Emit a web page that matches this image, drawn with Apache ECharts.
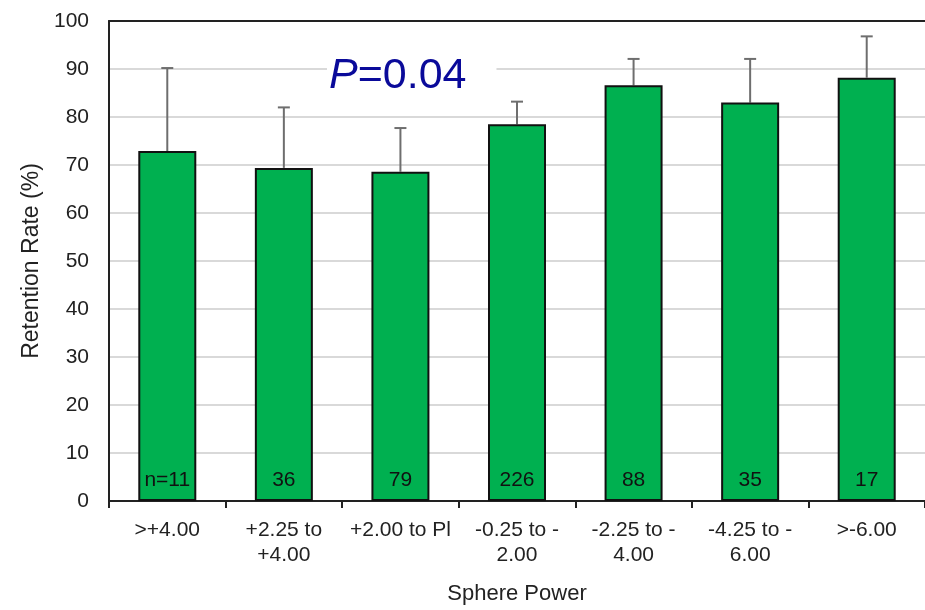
<!DOCTYPE html>
<html><head><meta charset="utf-8">
<script src="https://cdn.jsdelivr.net/npm/echarts@6/dist/echarts.min.js"></script>
<style>html,body{margin:0;padding:0;background:#fff}#c{width:925px;height:610px}</style>
</head><body><div id="c"></div>
<script>
const categories = ['>+4.00', '+2.25 to\n+4.00', '+2.00 to Pl', '-0.25 to -\n2.00', '-2.25 to -\n4.00', '-4.25 to -\n6.00', '>-6.00'];
const retention = [72.9, 69.4, 68.6, 78.5, 86.6, 83.0, 88.2];
const errorTop = [90.2, 82.0, 77.7, 83.2, 92.1, 92.1, 96.8];
const counts = ['n=11', '36', '79', '226', '88', '35', '17'];
const yTicks = [0, 10, 20, 30, 40, 50, 60, 70, 80, 90, 100];

const chart = echarts.init(document.getElementById('c'));
const font = 'Liberation Sans, Arial, sans-serif';
const navy = '#0a0a9a';
chart.setOption({
  animation: false,
  grid: { left: 109, top: 21, width: 819, height: 484, show: false, containLabel: false },
  xAxis: [{
    type: 'category', data: categories,
    name: 'Sphere Power', nameLocation: 'middle', nameGap: 82,
    nameTextStyle: { fontFamily: font, fontSize: 22, color: '#222' },
    axisLine: { lineStyle: { color: '#222', width: 2 } },
    axisTick: { show: true, interval: 0, length: 7, lineStyle: { color: '#222', width: 2 } },
    axisLabel: { interval: 0, fontFamily: font, fontSize: 21, color: '#222', lineHeight: 25, margin: 17 }
  }, {
    type: 'category', data: categories, position: 'top',
    axisLine: { lineStyle: { color: '#222', width: 2 } },
    axisTick: { show: false }, axisLabel: { show: false }
  }],
  yAxis: {
    type: 'value', min: 0, max: 100, interval: 10,
    name: 'Retention Rate (%)', nameLocation: 'middle', nameGap: 62, nameRotate: 90,
    nameTextStyle: { fontFamily: font, fontSize: 23, color: '#222' },
    axisLine: { show: true, lineStyle: { color: '#222', width: 2 } },
    axisTick: { show: false },
    axisLabel: { fontFamily: font, fontSize: 21, color: '#222', margin: 20,
      formatter: v => yTicks.includes(v) ? String(v) : '' },
    splitLine: { lineStyle: { color: '#d9d9d9', width: 2 } }
  },
  series: [
    {
      type: 'bar', data: retention, barWidth: 58, z: 3,
      itemStyle: { color: '#00b050', borderColor: '#111', borderWidth: 2 },
      label: { show: true, position: 'insideBottom', distance: 10,
        formatter: p => counts[p.dataIndex],
        fontFamily: font, fontSize: 21, color: '#111' }
    },
    {
      type: 'custom', z: 2,
      data: retention.map((v, i) => [i, v, errorTop[i]]),
      renderItem: (params, api) => {
        const base = api.coord([api.value(0), api.value(1)]);
        const top = api.coord([api.value(0), api.value(2)]);
        const st = { stroke: '#6e6e6e', lineWidth: 2 };
        return { type: 'group', children: [
          { type: 'line', shape: { x1: base[0], y1: base[1], x2: top[0], y2: top[1] }, style: st },
          { type: 'line', shape: { x1: top[0] - 6, y1: top[1], x2: top[0] + 6, y2: top[1] }, style: st }
        ]};
      }
    }
  ],
  graphic: [{
    type: 'text', x: 327, y: 76, z: 10,
    style: {
      text: '{i|P}{n|=0.04}',
      verticalAlign: 'middle',
      fill: navy,
      backgroundColor: '#fff', padding: [2, 30, 2, 2],
      rich: {
        i: { fontFamily: font, fontSize: 43, fontStyle: 'italic', fill: navy, color: navy },
        n: { fontFamily: font, fontSize: 43, fill: navy, color: navy }
      }
    }
  }]
});
</script></body></html>
